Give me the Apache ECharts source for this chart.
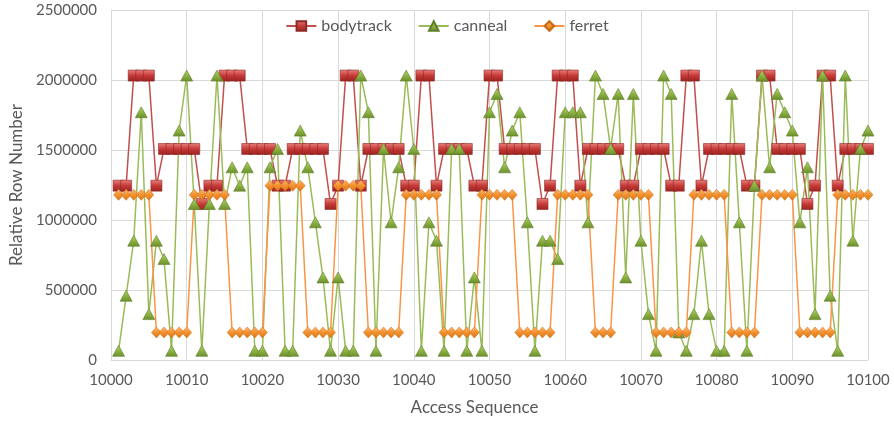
<!DOCTYPE html>
<html>
<head>
<meta charset="utf-8">
<script src="https://cdn.jsdelivr.net/npm/echarts@6/dist/echarts.min.js"></script>
<style>
  html, body { margin: 0; padding: 0; background: #ffffff; }
  #chart { width: 894px; height: 423px; }
</style>
</head>
<body>
<div id="chart"></div>
<script>
// Access sequence numbers start at 10001 and advance by one per access
const firstAccess = 10001;

// Relative row number touched by each access, per benchmark
const bodytrack = [
  1245184, 1245184, 2031616, 2031616, 2031616, 1245184, 1507328, 1507328, 1507328, 1507328,
  1507328, 1114112, 1245184, 1245184, 2031616, 2031616, 2031616, 1507328, 1507328, 1507328,
  1507328, 1245184, 1245184, 1507328, 1507328, 1507328, 1507328, 1507328, 1114112, 1245184,
  2031616, 2031616, 1245184, 1507328, 1507328, 1507328, 1507328, 1507328, 1245184, 1245184,
  2031616, 2031616, 1245184, 1507328, 1507328, 1507328, 1507328, 1245184, 1245184, 2031616,
  2031616, 1507328, 1507328, 1507328, 1507328, 1507328, 1114112, 1245184, 2031616, 2031616,
  2031616, 1245184, 1507328, 1507328, 1507328, 1507328, 1507328, 1245184, 1245184, 1507328,
  1507328, 1507328, 1507328, 1245184, 1245184, 2031616, 2031616, 1245184, 1507328, 1507328,
  1507328, 1507328, 1507328, 1245184, 1245184, 2031616, 2031616, 1507328, 1507328, 1507328,
  1507328, 1114112, 1245184, 2031616, 2031616, 1245184, 1507328, 1507328, 1507328, 1507328
];

const canneal = [
  65536, 458752, 851968, 1769472, 327680, 851968, 720896, 65536, 1638400, 2031616,
  1114112, 65536, 1114112, 2031616, 1114112, 1376256, 1245184, 1376256, 65536, 65536,
  1376256, 1507328, 65536, 65536, 1638400, 1376256, 983040, 589824, 65536, 589824,
  65536, 65536, 2031616, 1769472, 65536, 1507328, 983040, 1376256, 2031616, 1507328,
  65536, 983040, 851968, 65536, 1507328, 1507328, 65536, 589824, 65536, 1769472,
  1900544, 1376256, 1638400, 1769472, 983040, 65536, 851968, 851968, 720896, 1769472,
  1769472, 1769472, 983040, 2031616, 1900544, 1507328, 1900544, 589824, 1900544, 851968,
  327680, 65536, 2031616, 1900544, 196608, 65536, 327680, 851968, 327680, 65536,
  65536, 1900544, 983040, 65536, 1245184, 2031616, 1376256, 1900544, 1769472, 1638400,
  983040, 1376256, 327680, 2031616, 458752, 65536, 2031616, 851968, 1507328, 1638400
];

const ferret = [
  1179648, 1179648, 1179648, 1179648, 1179648, 196608, 196608, 196608, 196608, 196608,
  1179648, 1179648, 1179648, 1179648, 1179648, 196608, 196608, 196608, 196608, 196608,
  1245184, 1245184, 1245184, 1245184, 1245184, 196608, 196608, 196608, 196608, 1245184,
  1245184, 1245184, 1245184, 196608, 196608, 196608, 196608, 196608, 1179648, 1179648,
  1179648, 1179648, 1179648, 196608, 196608, 196608, 196608, 196608, 1179648, 1179648,
  1179648, 1179648, 1179648, 196608, 196608, 196608, 196608, 196608, 1179648, 1179648,
  1179648, 1179648, 1179648, 196608, 196608, 196608, 1179648, 1179648, 1179648, 1179648,
  1179648, 196608, 196608, 196608, 196608, 196608, 1179648, 1179648, 1179648, 1179648,
  1179648, 196608, 196608, 196608, 196608, 1179648, 1179648, 1179648, 1179648, 1179648,
  196608, 196608, 196608, 196608, 196608, 1179648, 1179648, 1179648, 1179648, 1179648
];

// Axis tick settings
const xTickMin = 10000, xTickMax = 10100, xTickStep = 10;
const yTickMin = 0, yTickMax = 2500000, yTickStep = 500000;

const pairs = values => values.map((v, i) => [firstAccess + i, v]);

const grad = (top, mid, bottom) => ({
  type: 'linear', x: 0, y: 0, x2: 0, y2: 1,
  colorStops: [
    { offset: 0, color: top },
    { offset: 0.5, color: mid },
    { offset: 1, color: bottom }
  ]
});

const textColor = '#595959';
const gridColor = '#D9D9D9';
const font = 'Lato, "Open Sans", sans-serif';

const chart = echarts.init(document.getElementById('chart'), null, { renderer: 'canvas' });

chart.setOption({
  animation: false,
  backgroundColor: '#ffffff',
  textStyle: { fontFamily: font },
  grid: { left: 111, right: 26, top: 10, bottom: 63, containLabel: false },
  legend: {
    top: 13,
    left: 'center',
    itemWidth: 30,
    itemHeight: 12,
    itemGap: 26,
    textStyle: { color: textColor, fontSize: 16, fontFamily: font },
    data: ['bodytrack', 'canneal', 'ferret']
  },
  xAxis: {
    type: 'value',
    min: xTickMin,
    max: xTickMax,
    interval: xTickStep,
    name: 'Access Sequence',
    nameLocation: 'middle',
    nameGap: 39,
    nameTextStyle: { color: textColor, fontSize: 17, fontFamily: font, padding: [0, 30, 0, 0] },
    axisLine: { show: true, lineStyle: { color: gridColor, width: 1 } },
    axisTick: { show: false },
    axisLabel: { color: textColor, fontSize: 15, margin: 13, formatter: v => String(v) },
    splitLine: { show: true, lineStyle: { color: gridColor, width: 1 } }
  },
  yAxis: {
    type: 'value',
    min: yTickMin,
    max: yTickMax,
    interval: yTickStep,
    name: 'Relative Row Number',
    nameLocation: 'middle',
    nameGap: 86,
    nameRotate: 90,
    nameTextStyle: { color: textColor, fontSize: 17, fontFamily: font },
    axisLine: { show: true, lineStyle: { color: gridColor, width: 1 } },
    axisTick: { show: false },
    axisLabel: { color: textColor, fontSize: 15, margin: 14, formatter: v => String(v) },
    splitLine: { show: true, lineStyle: { color: gridColor, width: 1 } }
  },
  series: [
    {
      name: 'bodytrack',
      type: 'line',
      data: pairs(bodytrack),
      symbol: 'rect',
      symbolSize: 11,
      showAllSymbol: true,
      lineStyle: { color: '#C0504D', width: 1.5 },
      itemStyle: {
        color: grad('#E8807C', '#C63A37', '#9A2320'),
        borderColor: '#8C2A28',
        borderWidth: 0.6
      },
      emphasis: { disabled: true }
    },
    {
      name: 'canneal',
      type: 'line',
      data: pairs(canneal),
      symbol: 'triangle',
      symbolSize: [12, 11],
      showAllSymbol: true,
      lineStyle: { color: '#9BBB59', width: 1.5 },
      itemStyle: {
        color: grad('#B3D36F', '#8DB343', '#6A8E2D'),
        borderColor: '#5F7F28',
        borderWidth: 0.6
      },
      emphasis: { disabled: true }
    },
    {
      name: 'ferret',
      type: 'line',
      data: pairs(ferret),
      symbol: 'diamond',
      symbolSize: [10, 11],
      showAllSymbol: true,
      lineStyle: { color: '#F79646', width: 1.5 },
      itemStyle: {
        color: grad('#FDBA72', '#F3912F', '#D97516'),
        borderColor: '#C86A12',
        borderWidth: 0.5
      },
      emphasis: { disabled: true }
    }
  ]
});
</script>
</body>
</html>
